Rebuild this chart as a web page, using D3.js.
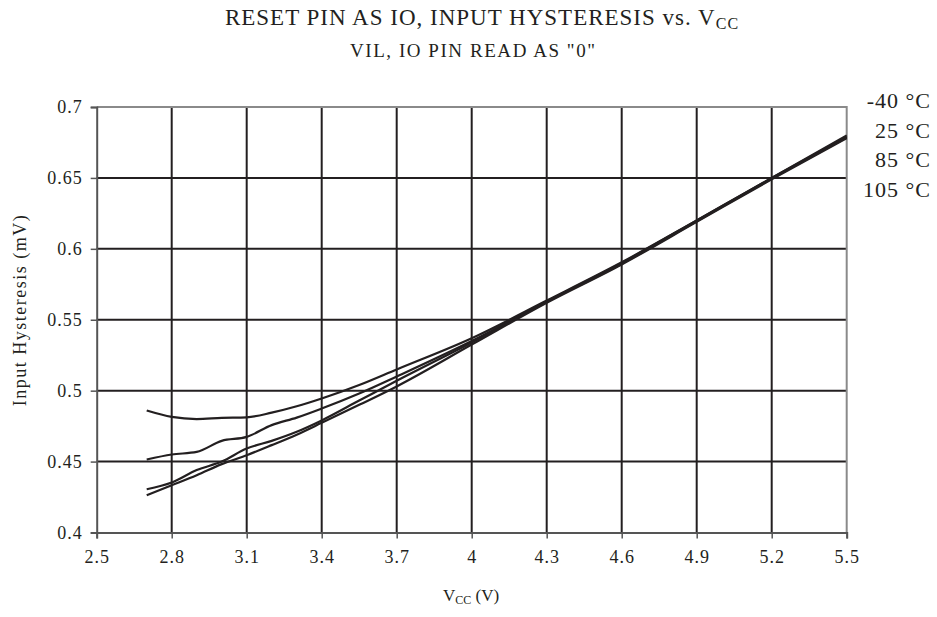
<!DOCTYPE html>
<html><head><meta charset="utf-8">
<script src="https://cdn.jsdelivr.net/npm/d3@7"></script>
<style>
body{margin:0;background:#fff;}
text{font-family:"Liberation Serif","Times New Roman",serif;fill:#231f20;}
</style></head>
<body><svg id="c" width="937" height="617"></svg>
<script>
const vcc = [2.7, 2.8, 2.9, 3.0, 3.1, 3.2, 3.3, 3.4, 3.55, 3.7, 4.0, 4.3, 4.6, 4.9, 5.2, 5.5];
const tM40 = [0.486, 0.4815, 0.480, 0.4808, 0.4812, 0.4845, 0.489, 0.4945, 0.504, 0.515, 0.537, 0.5635, 0.5905, 0.620, 0.650, 0.680];
const t25 = [0.4515, 0.455, 0.4568, 0.4646, 0.4674, 0.4757, 0.481, 0.4874, 0.498, 0.510, 0.535, 0.563, 0.590, 0.620, 0.650, 0.679];
const t85 = [0.4305, 0.4352, 0.444, 0.450, 0.4592, 0.4646, 0.471, 0.479, 0.493, 0.507, 0.534, 0.5625, 0.5895, 0.6195, 0.6495, 0.6785];
const t105 = [0.4263, 0.4333, 0.4404, 0.4482, 0.4545, 0.4616, 0.469, 0.4773, 0.490, 0.503, 0.5325, 0.562, 0.589, 0.619, 0.649, 0.678];
const seriesNames = ["-40 °C", "25 °C", "85 °C", "105 °C"];
const xTicks = [2.5, 2.8, 3.1, 3.4, 3.7, 4.0, 4.3, 4.6, 4.9, 5.2, 5.5];
const yTicks = [0.4, 0.45, 0.5, 0.55, 0.6, 0.65, 0.7];

const svg = d3.select("#c");
const L = 96.7, R = 846.7, T = 107, B = 532.5;
const x = d3.scaleLinear().domain([2.5, 5.5]).range([L, R]);
const y = d3.scaleLinear().domain([0.4, 0.7]).range([B, T]);
const ink = "#231f20";

// grid
svg.append("g").selectAll("line").data(xTicks.slice(1, -1)).join("line")
  .attr("x1", d => x(d)).attr("x2", d => x(d)).attr("y1", T).attr("y2", B)
  .attr("stroke", ink).attr("stroke-width", 2);
svg.append("g").selectAll("line").data(yTicks.slice(1, -1)).join("line")
  .attr("y1", d => y(d)).attr("y2", d => y(d)).attr("x1", L).attr("x2", R)
  .attr("stroke", ink).attr("stroke-width", 2);
// border top/right gray
svg.append("path").attr("d", `M${L},${T}H${R}V${B}`).attr("fill", "none")
  .attr("stroke", "#8a8a8a").attr("stroke-width", 2);

// axes
const fmt = d => d3.format("")(+d.toFixed(2));
const xAxis = d3.axisBottom(x).tickValues(xTicks).tickSize(6).tickPadding(12).tickFormat(fmt);
const gx = svg.append("g").attr("transform", `translate(0,${B})`).call(xAxis);
const yAxis = d3.axisLeft(y).tickValues(yTicks).tickSize(6).tickPadding(8).tickFormat(fmt);
const gy = svg.append("g").attr("transform", `translate(${L},0)`).call(yAxis);
[gx, gy].forEach(g => {
  g.select(".domain").attr("stroke", "#555").attr("stroke-width", 2);
  g.selectAll(".tick line").attr("stroke", "#555").attr("stroke-width", 1.5);
  g.selectAll(".tick text").attr("font-family", "Liberation Serif").attr("font-size", 18)
    .attr("fill", ink).style("letter-spacing", "1px");
});

// lines
const series = [tM40, t25, t85, t105];
const line = d3.line().x((d, i) => x(vcc[i])).y(d => y(d)).curve(d3.curveMonotoneX);
svg.append("g").selectAll("path").data(series).join("path")
  .attr("d", d => line(d)).attr("fill", "none").attr("stroke", ink).attr("stroke-width", 2.2);

// legend
svg.append("g").selectAll("text").data(seriesNames).join("text")
  .attr("x", 931).attr("y", (d, i) => 108 + i * 29.5).attr("text-anchor", "end")
  .attr("font-size", 22).style("letter-spacing", "1px").text(d => d);

// titles
const t1 = svg.append("text").attr("x", 482).attr("y", 24.5).attr("text-anchor", "middle").attr("font-size", 23)
  .style("letter-spacing", "1px");
t1.append("tspan").text("RESET PIN AS IO, INPUT HYSTERESIS vs. V");
t1.append("tspan").attr("font-size", 16).attr("dy", 4).text("CC");
svg.append("text").attr("x", 350).attr("y", 57).attr("font-size", 19)
  .attr("textLength", 245).attr("lengthAdjust", "spacing").text('VIL, IO PIN READ AS "0"');

const xt = svg.append("text").attr("x", 471).attr("y", 601).attr("text-anchor", "middle").attr("font-size", 17);
xt.append("tspan").text("V");
xt.append("tspan").attr("font-size", 12).attr("dy", 3).text("CC");
xt.append("tspan").attr("dy", -3).text(" (V)");

svg.append("text").attr("transform", "translate(26,310) rotate(-90)").attr("text-anchor", "middle")
  .attr("font-size", 18).style("letter-spacing", "1.5px").text("Input Hysteresis (mV)");
</script></body></html>
